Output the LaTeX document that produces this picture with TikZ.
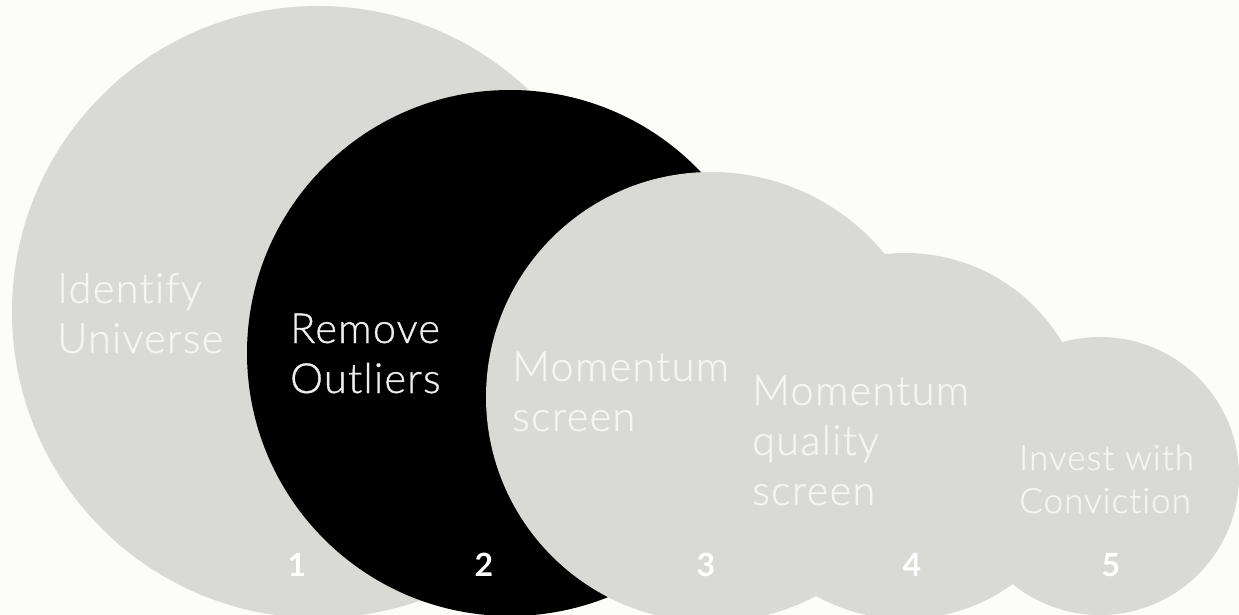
\documentclass[tikz,border=0pt]{standalone}
\usepackage{fontspec}
\setmainfont{Lato}[UprightFont=* Light, UprightFeatures={FakeBold=0.8}, BoldFont=* Bold, Ligatures={NoCommon}, LetterSpace=3]
\definecolor{bgc}{HTML}{FCFCF9}
\definecolor{cgrey}{HTML}{D9D9D6}
\definecolor{ctext}{HTML}{F5F5F3}
\definecolor{cdark}{HTML}{000000}
\definecolor{cdtext}{HTML}{EEEEEE}
\begin{document}
\begin{tikzpicture}[x=1pt,y=-1pt,
  circ/.style={circle, inner sep=0pt, outer sep=0pt, fill=cgrey},
  lbl/.style={anchor=base west, align=left, inner sep=0pt, text=ctext, font=\fontsize{41.5}{50}\selectfont},
  num/.style={anchor=base, inner sep=0pt, text=white, font=\fontsize{32}{32}\selectfont\bfseries}]
\fill[bgc] (0,0) rectangle (1239,615);
\useasboundingbox (0,0) rectangle (1239,615);
\node[circ, minimum size=612pt] (c1) at (318,312) {};
\node[circ, fill=cdark, minimum size=526pt] (c2) at (510,353) {};
\node[circ, minimum size=450pt] (c3) at (711,397) {};
\node[circ, minimum size=366pt] (c4) at (905,436) {};
\node[circ, minimum size=278pt] (c5) at (1100,476) {};
% base anchor of a multi-line node = baseline of its last line
\node[lbl] (t1) at (57,353) {Identify\\Universe};
\node[lbl, text=cdtext] (t2) at (290,393) {Remove\\Outliers};
\node[lbl] (t3) at (512,431) {Momentum\\screen};
\node[lbl] (t4) at (752,505) {Momentum\\quality\\screen};
\node[lbl, font=\fontsize{35}{43}\selectfont] (t5) at (1019,513) {Invest with\\Conviction};
\node[num] (n1) at (297,576) {1};
\node[num] (n2) at (484,576) {2};
\node[num] (n3) at (706,576) {3};
\node[num] (n4) at (912,576) {4};
\node[num] (n5) at (1111,576) {5};
\end{tikzpicture}
\end{document}
